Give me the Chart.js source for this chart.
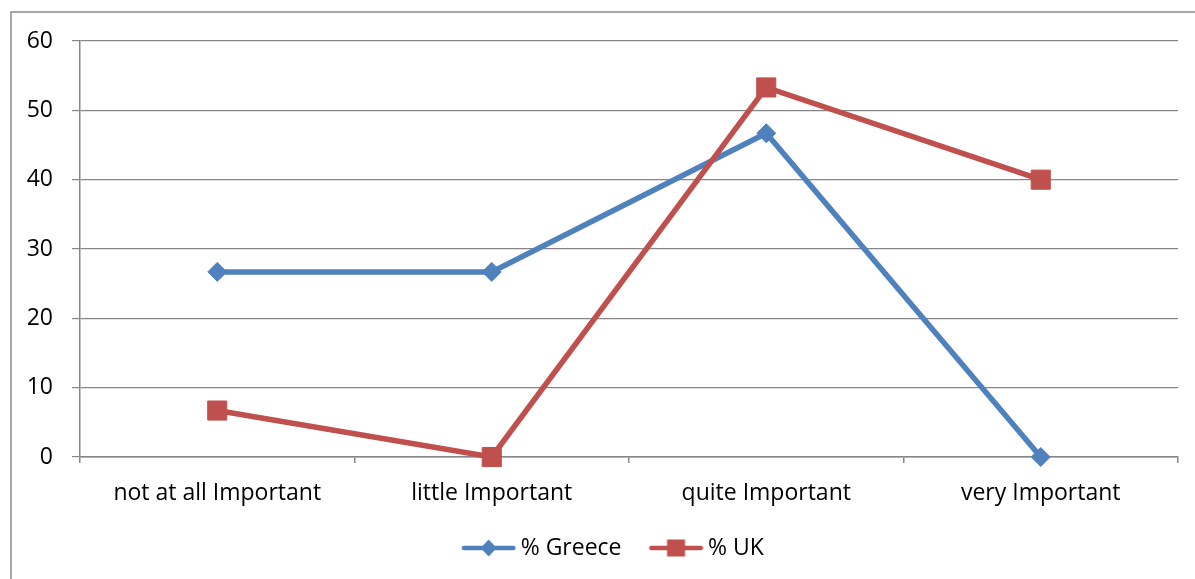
<!DOCTYPE html>
<html>
<head>
<meta charset="utf-8">
<script src="https://cdn.jsdelivr.net/npm/chart.js@4/dist/chart.umd.min.js"></script>
<style>
  html, body { margin: 0; padding: 0; background: #fff; }
  #wrap { width: 1195px; height: 579px; }
</style>
</head>
<body>
<div id="wrap"><canvas id="chart" width="1195" height="579"></canvas></div>
<script>
// Survey answers by importance level, percentage of respondents
const categories = ['not at all Important', 'little Important', 'quite Important', 'very Important'];
const greeceValues = [26.7, 26.7, 46.7, 0];
const ukValues = [6.7, 0, 53.3, 40];
const yTicks = [0, 10, 20, 30, 40, 50, 60];

const BLUE = '#4F81BD';
const RED = '#C0504D';
const GRID = '#868686';
const FONT = "'Open Sans', 'Noto Sans', sans-serif";

// Legend icon: a short line with the series marker in its middle.
// The canvas is wider than the legend box so the line ends close to the label text.
function legendIcon(color, marker) {
  const c = document.createElement('canvas');
  c.width = 79; c.height = 22;
  const g = c.getContext('2d');
  g.strokeStyle = color; g.fillStyle = color;
  g.lineWidth = 4.5; g.lineCap = 'round';
  g.beginPath(); g.moveTo(26.75, 11); g.lineTo(76.25, 11); g.stroke();
  const cx = 51.5, cy = 11;
  g.beginPath();
  if (marker === 'diamond') {
    g.moveTo(cx, cy - 8.5); g.lineTo(cx + 8, cy); g.lineTo(cx, cy + 8.5); g.lineTo(cx - 8, cy);
    g.closePath();
  } else {
    g.rect(cx - 9, cy - 8.5, 18, 17);
  }
  g.fill();
  return c;
}
const icons = [legendIcon(BLUE, 'diamond'), legendIcon(RED, 'square')];

// Outer frame of the chart object (left and top edges)
const framePlugin = {
  id: 'frame',
  beforeDraw(chart) {
    const ctx = chart.ctx;
    ctx.save();
    ctx.strokeStyle = '#8c8c8c';
    ctx.lineWidth = 1.5;
    ctx.beginPath();
    ctx.moveTo(11, chart.height);
    ctx.lineTo(11, 12);
    ctx.lineTo(chart.width, 12);
    ctx.stroke();
    ctx.restore();
  }
};

Chart.defaults.font.family = FONT;
Chart.defaults.font.size = 23;
Chart.defaults.color = '#000';

new Chart(document.getElementById('chart'), {
  type: 'line',
  data: {
    labels: categories,
    datasets: [
      {
        label: '% Greece',
        data: greeceValues,
        borderColor: BLUE,
        backgroundColor: BLUE,
        borderWidth: 5.5,
        pointStyle: 'rectRot',
        pointRadius: 9.5,
        pointBorderWidth: 1,
        pointBackgroundColor: BLUE,
        pointBorderColor: BLUE,
        tension: 0,
        clip: false,
        order: 2
      },
      {
        label: '% UK',
        data: ukValues,
        borderColor: RED,
        backgroundColor: RED,
        borderWidth: 5.5,
        pointStyle: 'rect',
        pointRadius: 13.5,
        pointBorderWidth: 1,
        pointBackgroundColor: RED,
        pointBorderColor: RED,
        tension: 0,
        clip: false,
        order: 1
      }
    ]
  },
  options: {
    responsive: false,
    animation: false,
    devicePixelRatio: 1,
    layout: { padding: { left: 30, right: 17, top: 41, bottom: 9.5 } },
    scales: {
      x: {
        offset: true,
        grid: {
          offset: true,
          drawOnChartArea: false,
          drawTicks: true,
          tickLength: 6,
          color: GRID,
          lineWidth: 1.5
        },
        border: { color: GRID, width: 1.5 },
        ticks: { padding: 17, maxRotation: 0, autoSkip: false, font: { size: 23 } },
        afterFit(scale) { scale.height = 69.5; }
      },
      y: {
        min: 0,
        max: 60,
        afterBuildTicks(scale) { scale.ticks = yTicks.map(v => ({ value: v })); },
        grid: { color: GRID, lineWidth: 1.2, tickLength: 8, drawTicks: true },
        border: { color: GRID, width: 1.5 },
        ticks: { padding: 19, font: { size: 23 } },
        afterFit(scale) {
          scale.width = 50;
          // let the tick labels run past the narrow axis box instead of being clipped
          scale._computeLabelArea = () => undefined;
        }
      }
    },
    plugins: {
      legend: {
        position: 'bottom',
        labels: {
          usePointStyle: true,
          pointStyleWidth: 65,
          padding: 10,
          font: { size: 23 },
          color: '#000',
          sort: (a, b) => a.datasetIndex - b.datasetIndex,
          generateLabels(chart) {
            const items = Chart.defaults.plugins.legend.labels.generateLabels(chart);
            items.forEach(it => { it.pointStyle = icons[it.datasetIndex]; it.rotation = 0; });
            return items;
          }
        }
      },
      tooltip: { enabled: false }
    }
  },
  plugins: [framePlugin]
});
</script>
</body>
</html>
